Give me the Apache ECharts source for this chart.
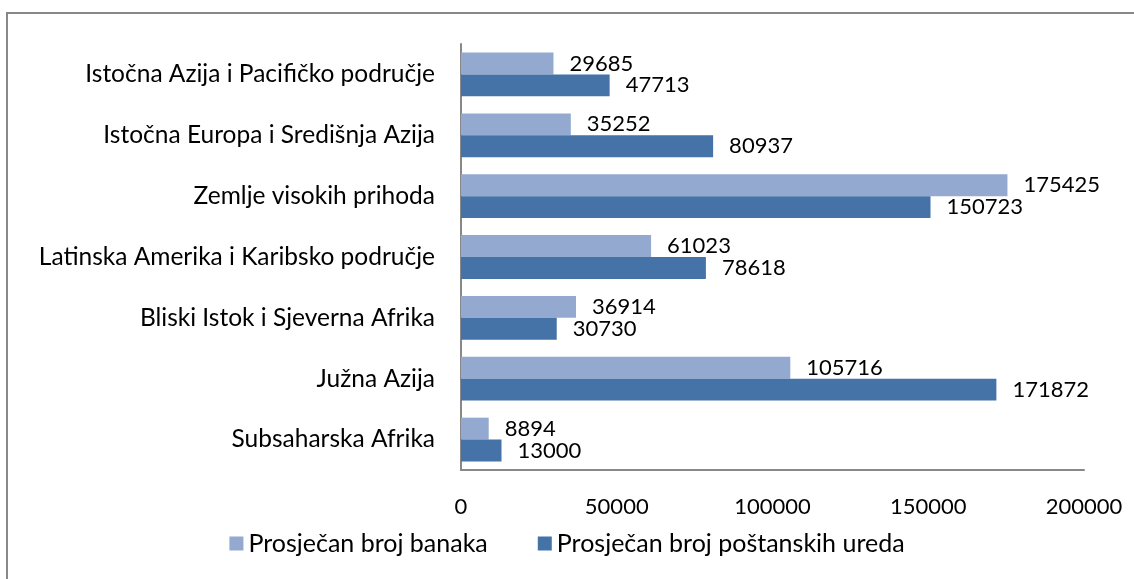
<!DOCTYPE html>
<html>
<head>
<meta charset="utf-8">
<script src="https://cdn.jsdelivr.net/npm/echarts@6/dist/echarts.min.js"></script>
<style>
    html, body { margin: 0; padding: 0; background: #fff; }
    #chart { width: 1134px; height: 579px; }
</style>
</head>
<body>
<div id="chart"></div>
<script>
// 类别 (从上到下)
const categories = [
    'Istočna Azija i Pacifičko područje',
    'Istočna Europa i Središnja Azija',
    'Zemlje visokih prihoda',
    'Latinska Amerika i Karibsko područje',
    'Bliski Istok i Sjeverna Afrika',
    'Južna Azija',
    'Subsaharska Afrika'
];
const seriesNames = ['Prosječan broj banaka', 'Prosječan broj poštanskih ureda'];
const banks = [29685, 35252, 175425, 61023, 36914, 105716, 8894];
const postOffices = [47713, 80937, 150723, 78618, 30730, 171872, 13000];

function initChart() {
    const chart = echarts.init(document.getElementById('chart'));
    const font = 'Lato, "Open Sans", sans-serif';
    const labelStyle = {
        show: true,
        position: 'right',
        distance: 16,
        color: '#000',
        fontSize: 22,
        fontFamily: font
    };
    const option = {
        animation: false,
        backgroundColor: '#fff',
        textStyle: { fontFamily: font },
        graphic: [{
            type: 'rect',
            shape: { x: 7, y: 13, width: 1200, height: 700 },
            style: { fill: 'none', stroke: '#888888', lineWidth: 2 },
            silent: true
        }],
        grid: {
            left: 461,
            right: 50,
            top: 44,
            bottom: 109
        },
        legend: {
            bottom: 18,
            left: 'center',
            itemWidth: 14,
            itemHeight: 14,
            itemGap: 50,
            icon: 'rect',
            textStyle: { fontSize: 25, color: '#000', fontFamily: font },
            data: seriesNames
        },
        xAxis: {
            type: 'value',
            min: 0,
            max: 200000,
            interval: 50000,
            splitLine: { show: false },
            axisTick: { show: false },
            axisLine: { show: true, lineStyle: { color: '#888888', width: 2 } },
            axisLabel: {
                color: '#000',
                fontSize: 22,
                margin: 26,
                fontFamily: font,
                formatter: function(v) { return String(v); }
            }
        },
        yAxis: {
            type: 'category',
            inverse: true,
            data: categories,
            axisTick: { show: false },
            axisLine: { lineStyle: { color: '#888888', width: 2 } },
            axisLabel: { color: '#000', fontSize: 24.5, margin: 26, fontFamily: font }
        },
        series: [
            {
                name: seriesNames[0],
                type: 'bar',
                data: banks,
                barGap: '0%',
                barCategoryGap: '28%',
                itemStyle: { color: '#93A9CF' },
                label: labelStyle
            },
            {
                name: seriesNames[1],
                type: 'bar',
                data: postOffices,
                barGap: '0%',
                barCategoryGap: '28%',
                itemStyle: { color: '#4572A7' },
                label: labelStyle
            }
        ]
    };
    chart.setOption(option);
}

initChart();
</script>
</body>
</html>
